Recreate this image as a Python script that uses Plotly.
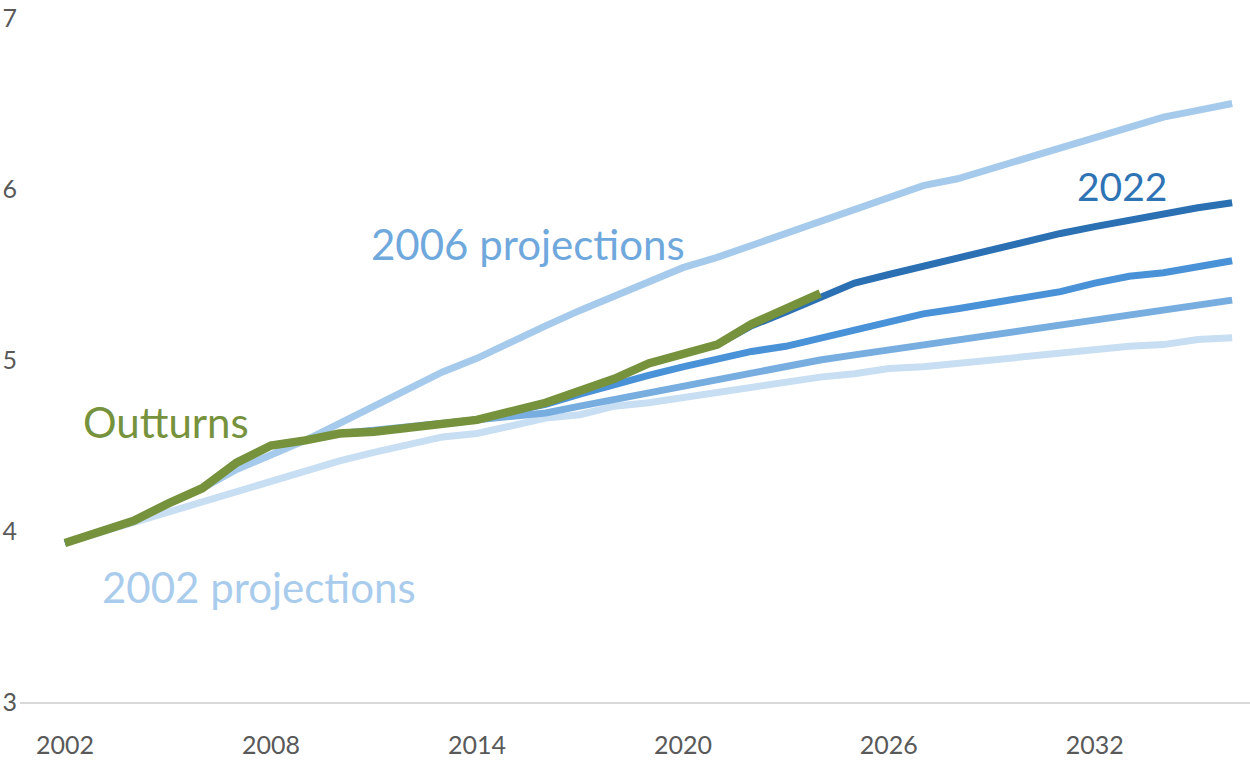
import plotly.graph_objects as go

years = list(range(2002, 2037))
outturn_years = list(range(2002, 2025))
proj2022_years = list(range(2021, 2037))

outturns = [3.93, 3.99, 4.06, 4.16, 4.25, 4.40, 4.50, 4.53, 4.57, 4.58, 4.60, 4.62,
            4.65, 4.70, 4.75, 4.82, 4.89, 4.98, 5.04, 5.09, 5.21, 5.30, 5.39]

proj_2002 = [3.93, 3.99, 4.06, 4.12, 4.18, 4.23, 4.30, 4.36, 4.41, 4.46, 4.50, 4.55,
             4.57, 4.62, 4.66, 4.68, 4.73, 4.75, 4.78, 4.82, 4.85, 4.87, 4.90, 4.92,
             4.95, 4.96, 4.98, 5.01, 5.02, 5.04, 5.06, 5.08, 5.09, 5.12, 5.13]

proj_2006 = [3.93, 3.99, 4.06, 4.16, 4.25, 4.36, 4.44, 4.53, 4.63, 4.73, 4.82, 4.93,
             5.01, 5.11, 5.20, 5.29, 5.37, 5.46, 5.54, 5.60, 5.67, 5.74, 5.81, 5.88,
             5.96, 6.02, 6.06, 6.12, 6.19, 6.24, 6.31, 6.37, 6.42, 6.46, 6.50]

proj_mid_a = [3.93, 3.99, 4.06, 4.16, 4.25, 4.40, 4.50, 4.53, 4.57, 4.59, 4.61, 4.635,
              4.655, 4.67, 4.69, 4.73, 4.77, 4.80, 4.84, 4.89, 4.93, 4.97, 5.00, 5.03,
              5.06, 5.09, 5.12, 5.15, 5.18, 5.20, 5.23, 5.26, 5.29, 5.32, 5.35]

proj_mid_b = [3.93, 3.99, 4.06, 4.16, 4.25, 4.40, 4.50, 4.53, 4.57, 4.58, 4.60, 4.62,
              4.65, 4.70, 4.74, 4.80, 4.86, 4.91, 4.96, 5.01, 5.05, 5.08, 5.13, 5.18,
              5.23, 5.27, 5.30, 5.33, 5.36, 5.40, 5.45, 5.49, 5.51, 5.54, 5.58]

proj_2022 = [5.09, 5.20, 5.28, 5.37, 5.45, 5.50, 5.55, 5.60, 5.65, 5.70, 5.74, 5.78,
             5.82, 5.86, 5.89, 5.92]

x_ticks = [2002, 2008, 2014, 2020, 2026, 2032]
y_ticks = [3, 4, 5, 6, 7]

FONT = "Lato"
fig = go.Figure()

series = [
    ("2002 projections", years, proj_2002, "#c8def3", 7),
    ("2006 projections", years, proj_2006, "#a6caeb", 7),
    ("Intermediate projections A", years, proj_mid_a, "#78ade0", 7),
    ("Intermediate projections B", years, proj_mid_b, "#4a92d7", 7),
    ("2022 projections", proj2022_years, proj_2022, "#2b70b3", 7),
    ("Outturns", outturn_years, outturns, "#76923c", 8.5),
]
for name, xs, ys, color, w in series:
    fig.add_trace(go.Scatter(x=xs, y=ys, mode="lines", name=name,
                             line=dict(color=color, width=w)))

annotations = [
    ("2006 projections", 2015.5, 5.68, "#6fa8dc", 42),
    ("Outturns", 2004.95, 4.64, "#76923c", 42),
    ("2002 projections", 2007.65, 3.67, "#a9cced", 42),
    ("2022", 2032.8, 6.02, "#2e74b5", 39),
]
for text, x, y, color, size in annotations:
    fig.add_annotation(x=x, y=y, text=text, showarrow=False, xanchor="center",
                       yanchor="middle", font=dict(family=FONT, size=size, color=color))

fig.update_layout(
    width=1250, height=767,
    margin=dict(l=20, r=0, t=18, b=65),
    plot_bgcolor="white", paper_bgcolor="white",
    showlegend=False,
    font=dict(family=FONT, color="#595959"),
)
fig.update_xaxes(
    range=[2000.69, 2036.52], tickvals=x_ticks, ticktext=[str(v) for v in x_ticks],
    showgrid=False, zeroline=False, showline=True, linecolor="#d9d9d9", linewidth=2,
    ticks="", ticklabelstandoff=20, tickfont=dict(family=FONT, size=25, color="#595959"),
    automargin=False,
)
fig.update_yaxes(
    range=[3, 7], tickvals=y_ticks, showgrid=False, zeroline=False, showline=False,
    ticks="", tickfont=dict(family=FONT, size=25, color="#595959"), automargin=False,
    ticklabelstandoff=2, ticklabeloverflow="allow",
)

fig.write_html("out.html", config={"displayModeBar": False},
               post_script="document.body.style.margin='0px';")
